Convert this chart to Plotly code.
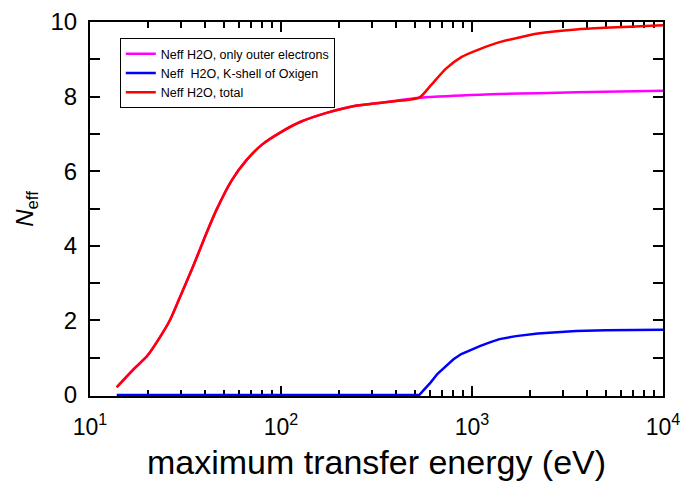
import plotly.graph_objects as go

# energy (eV) and N_eff values
e_low = [13.8, 16.6, 20.0, 22.9, 26.4, 30.3, 34.8, 39.9, 45.8, 55.1, 66.3, 79.8,
         100, 126, 175, 242, 349, 529]
n_low = [0.21, 0.65, 1.06, 1.50, 2.04, 2.75, 3.47, 4.23, 4.95, 5.75, 6.31, 6.72,
         7.05, 7.32, 7.57, 7.75, 7.85, 7.97]

e_high = [529, 608, 731, 879, 1107, 1393, 2213, 3508, 10000]
outer_high = [7.97, 7.99, 8.01, 8.03, 8.05, 8.07, 8.09, 8.12, 8.16]
total_high = [7.97, 8.30, 8.75, 9.06, 9.28, 9.46, 9.69, 9.80, 9.91]

e_kshell = [13.8, 529, 560, 608, 660, 731, 800, 879, 1000, 1107, 1250, 1393, 1700, 2213, 3508, 5000, 10000]
kshell = [0.0, 0.0, 0.14, 0.34, 0.57, 0.79, 0.96, 1.10, 1.23, 1.32, 1.42, 1.50, 1.58, 1.65, 1.72, 1.74, 1.75]

x_tickvals = [10, 100, 1000, 10000]
x_ticktext = ["10<sup>1</sup>", "10<sup>2</sup>", "10<sup>3</sup>", "10<sup>4</sup>"]
x_minor = [20, 30, 40, 50, 60, 70, 80, 90, 200, 300, 400, 500, 600, 700, 800, 900,
           2000, 3000, 4000, 5000, 6000, 7000, 8000, 9000]
y_tickvals = [0, 2, 4, 6, 8, 10]
y_minor = [1, 3, 5, 7, 9]

outer_x = e_low + e_high[1:]
outer_y = n_low + outer_high[1:]
total_x = e_low + e_high[1:]
total_y = n_low + total_high[1:]

fig = go.Figure()
fig.add_trace(go.Scatter(x=outer_x, y=outer_y, mode="lines", line=dict(color="#ff00ff", width=2.5, shape="spline", smoothing=0.6),
                         name="Neff H2O, only outer electrons"))
fig.add_trace(go.Scatter(x=e_kshell, y=kshell, mode="lines", line=dict(color="#0000ff", width=2.5, shape="linear"),
                         name="Neff  H2O, K-shell of Oxigen"))
fig.add_trace(go.Scatter(x=total_x, y=total_y, mode="lines", line=dict(color="#ff0000", width=2.5, shape="spline", smoothing=0.6),
                         name="Neff H2O, total"))
# invisible trace to carry the mirrored top/right axes
fig.add_trace(go.Scatter(x=[100], y=[5], xaxis="x2", yaxis="y2", mode="markers",
                         marker=dict(opacity=0), showlegend=False, hoverinfo="skip"))

font = "Liberation Sans, Arial, sans-serif"
tick_common = dict(showline=True, linecolor="black", linewidth=2, automargin=False,
                   ticks="inside", ticklen=10, tickwidth=1.5, tickcolor="black",
                   showgrid=False, zeroline=False, layer="below traces")

fig.update_layout(
    width=684, height=489,
    margin=dict(l=90, r=21, t=22, b=93),
    paper_bgcolor="white", plot_bgcolor="white",
    font=dict(family=font, color="black"),
    showlegend=True,
    legend=dict(x=0.052, y=0.957, xanchor="left", yanchor="top",
                bgcolor="white", bordercolor="black", borderwidth=1,
                font=dict(size=12.5, family=font), tracegroupgap=0),
    xaxis=dict(type="log", range=[1, 4], tickmode="array", tickvals=x_tickvals, ticktext=x_ticktext,
               minor=dict(ticks="inside", ticklen=6, tickwidth=1.5, tickcolor="black",
                          tickmode="array", tickvals=x_minor, showgrid=False),
               tickfont=dict(size=23), ticklabelstandoff=9,
               title=dict(text="maximum transfer energy (eV)", font=dict(size=34), standoff=12),
               **tick_common),
    yaxis=dict(range=[-0.025, 10], tickmode="array", tickvals=y_tickvals,
               minor=dict(ticks="inside", ticklen=10, tickwidth=1.5, tickcolor="black",
                          tickmode="array", tickvals=y_minor, showgrid=False),
               tickfont=dict(size=24), ticklabelstandoff=6,
               title=dict(text="<i>N</i><sub>eff</sub>", font=dict(size=24), standoff=10),
               **tick_common),
    xaxis2=dict(type="log", range=[1, 4], overlaying="x", side="top", anchor="y2",
                tickmode="array", tickvals=x_tickvals, showticklabels=False,
                minor=dict(ticks="inside", ticklen=6, tickwidth=1.5, tickcolor="black",
                           tickmode="array", tickvals=x_minor, showgrid=False),
                **tick_common),
    yaxis2=dict(range=[-0.025, 10], overlaying="y", side="right", anchor="x2",
                tickmode="array", tickvals=y_tickvals, showticklabels=False,
                minor=dict(ticks="inside", ticklen=10, tickwidth=1.5, tickcolor="black",
                           tickmode="array", tickvals=y_minor, showgrid=False),
                **tick_common),
)

fig.write_html("out.html", config={"displayModeBar": False},
               post_script="document.body.style.margin='0';")
